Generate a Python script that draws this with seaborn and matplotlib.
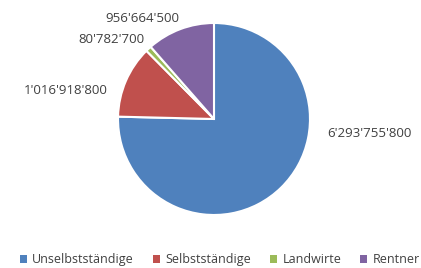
import matplotlib
matplotlib.use("Agg")
import matplotlib.pyplot as plt
from matplotlib.patches import Patch
import seaborn as sns

categories = ["Unselbstständige", "Selbstständige", "Landwirte", "Rentner"]
values = [6293755800, 1016918800, 80782700, 956664500]
value_labels = ["6'293'755'800", "1'016'918'800", "80'782'700", "956'664'500"]
colors = ["#4F81BD", "#C0504D", "#9BBB59", "#8064A2"]

sns.set_theme(style="white")
plt.rcParams["font.family"] = ["Open Sans", "DejaVu Sans"]

fig = plt.figure(figsize=(4.21, 2.68), dpi=100)
ax = fig.add_axes([0.2803, 0.1978, 0.456, 0.7164])
ax.pie(values, colors=colors, startangle=90, counterclock=False,
       wedgeprops=dict(edgecolor="white", linewidth=1.5))
ax.set_xlim(-1, 1)
ax.set_ylim(-1, 1)
ax.set_aspect("auto")
ax.axis("off")

txt = dict(fontsize=9.5, color="#404040", va="center")
ax.text(1.177, -0.146, value_labels[0], ha="left", **txt)
ax.text(-1.104, 0.302, value_labels[1], ha="right", **txt)
ax.text(-0.72, 0.833, value_labels[2], ha="right", **txt)
ax.text(-0.745, 1.052, value_labels[3], ha="center", **txt)

handles = [Patch(facecolor=c, edgecolor="none") for c in colors]
fig.legend(handles, categories, loc="center", bbox_to_anchor=(0.522, 0.03),
           ncol=4, frameon=False, fontsize=9, handlelength=0.6, handleheight=0.6,
           handletextpad=0.4, columnspacing=1.5, labelcolor="#404040")

fig.savefig("out.png", dpi=100)
